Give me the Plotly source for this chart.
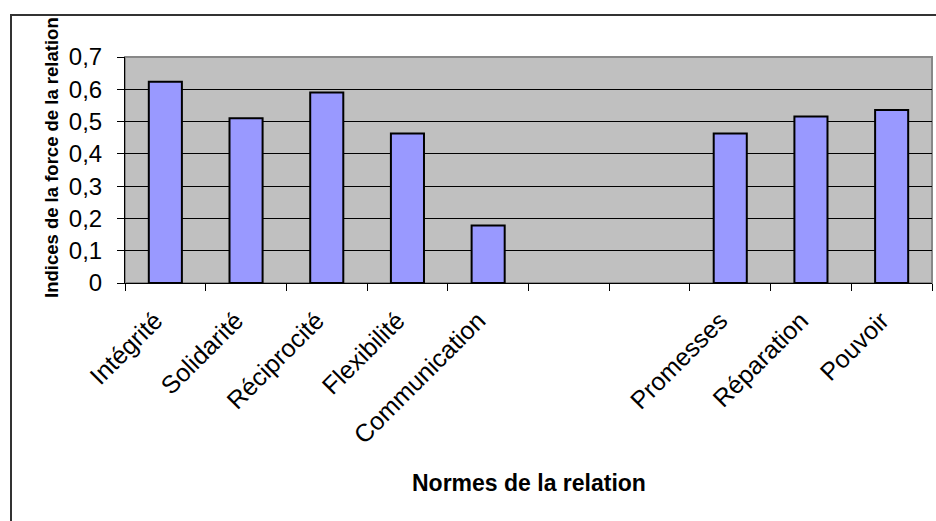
import plotly.graph_objects as go

# Relationship norms (two empty slots separate the two groups)
categories = ["Intégrité", "Solidarité", "Réciprocité", "Flexibilité", "Communication",
              " ", "  ", "Promesses", "Réparation", "Pouvoir"]
values = [0.623, 0.51, 0.59, 0.463, 0.178, None, None, 0.463, 0.516, 0.536]
y_ticks = [0, 0.1, 0.2, 0.3, 0.4, 0.5, 0.6, 0.7]
y_tick_text = ["0", "0,1", "0,2", "0,3", "0,4", "0,5", "0,6", "0,7"]

W, H = 936, 521
L, R, T, B = 125, 4, 57, 238
pw, ph = W - L - R, H - T - B

def px_x(px):
    return (px - L) / pw

def px_y(py):
    return (H - B - py) / ph

FONT = "Liberation Sans, Arial, sans-serif"

fig = go.Figure(go.Bar(
    x=categories, y=values,
    marker=dict(color="#9999FF", line=dict(color="#000000", width=2)),
))

fig.update_layout(
    width=W, height=H,
    margin=dict(l=L, r=R, t=T, b=B, pad=0),
    paper_bgcolor="white",
    plot_bgcolor="#C0C0C0",
    separators=", ",
    bargap=0.59,
    showlegend=False,
    font=dict(family=FONT, color="#000000"),
    xaxis=dict(
        type="category",
        tickson="boundaries",
        ticks="outside", ticklen=7, tickcolor="#000000",
        tickangle=-45,
        tickfont=dict(size=25, family=FONT),
        ticklabelstandoff=12,
        ticklabelshift=-10,
        showline=True, linecolor="#000000", linewidth=1,
        showgrid=False,
        automargin=False,
    ),
    yaxis=dict(
        range=[0, 0.7],
        tickmode="array",
        tickvals=y_ticks,
        ticktext=y_tick_text,
        ticks="outside", ticklen=7, tickcolor="#000000",
        tickfont=dict(size=24, family=FONT),
        ticklabelstandoff=10,
        showline=True, linecolor="#000000", linewidth=1,
        showgrid=True, gridcolor="#000000", gridwidth=1,
        zeroline=False,
        automargin=False,
    ),
    annotations=[
        dict(text="<b>Normes de la relation</b>", xref="paper", yref="paper",
             x=0.5, y=px_y(483), xanchor="center", yanchor="middle",
             showarrow=False, font=dict(size=23, family=FONT)),
        dict(text="<b>Indices de la force de la relation</b>", xref="paper", yref="paper",
             x=px_x(51), y=px_y(158), xanchor="center", yanchor="middle", textangle=-90,
             showarrow=False, font=dict(size=18.5, family=FONT)),
    ],
    shapes=[
        # chart frame (right and bottom edges fall outside the canvas)
        dict(type="rect", xref="paper", yref="paper", layer="below",
             x0=px_x(11), x1=px_x(945), y0=px_y(530), y1=px_y(15),
             line=dict(color="#333333", width=2), fillcolor="rgba(0,0,0,0)"),
        # plot area frame
        dict(type="rect", xref="paper", yref="paper", layer="below",
             x0=0, x1=1, y0=0, y1=1,
             line=dict(color="#888888", width=2), fillcolor="rgba(0,0,0,0)"),
    ],
)

fig.write_html("out.html")
